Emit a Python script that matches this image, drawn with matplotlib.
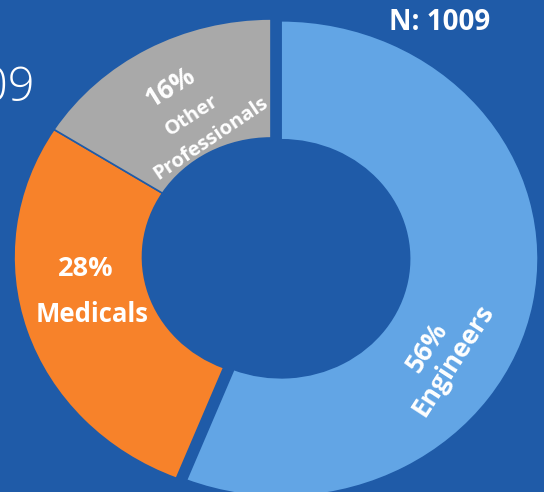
import matplotlib
matplotlib.use("Agg")
import matplotlib.pyplot as plt

categories = ["Engineers", "Medicals", "Other Professionals"]
shares = [56, 28, 16]
pct_labels = ["56%", "28%", "16%"]
total_n = 1009

bg = "#1f5ba8"
colors = ["#62a5e5", "#f7822a", "#a9a9a9"]

W, H = 544, 492
fig = plt.figure(figsize=(W / 100, H / 100), dpi=100, facecolor=bg)
ax = fig.add_axes([0, 0, 1, 1])
ax.set_facecolor(bg)

cx, cy, rx, ry = 271, 257, 257, 238

wedges, _ = ax.pie(shares, colors=colors, startangle=90, counterclock=False,
                   explode=[0.04, 0, 0], radius=1.0,
                   wedgeprops=dict(width=0.5, edgecolor=bg, linewidth=1.2))
ax.set_aspect("auto")
ax.set_xlim(-cx / rx, (W - cx) / rx)
ax.set_ylim((cy - H) / ry, cy / ry)
ax.axis("off")

font = ["Open Sans", "DejaVu Sans"]

def px(x, y):
    return ((x - cx) / rx, (cy - y) / ry)

# Engineers
ax.text(*px(427, 347), pct_labels[0], color="white", fontsize=19, fontweight="bold",
        rotation=57, ha="center", va="center", family=font)
ax.text(*px(453, 360), categories[0], color="white", fontsize=19, fontweight="bold",
        rotation=57, ha="center", va="center", family=font)
# Medicals
ax.text(*px(86, 269), pct_labels[1], color="white", fontsize=19.5, fontweight="bold",
        ha="center", va="center", family=font)
ax.text(*px(92, 314), categories[1], color="white", fontsize=18.5, fontweight="bold",
        ha="center", va="center", family=font)
# Other Professionals
ax.text(*px(170, 87), pct_labels[2], color="white", fontsize=19, fontweight="bold",
        rotation=32, ha="center", va="center", family=font)
ax.text(*px(192, 116), "Other", color="white", fontsize=14.5, fontweight="bold",
        rotation=33, ha="center", va="center", family=font)
ax.text(*px(211, 138), "Professionals", color="white", fontsize=14.5, fontweight="bold",
        rotation=34, ha="center", va="center", family=font)

fig.text(440 / W, 1 - 23 / H, f"N: {total_n}", color="white", fontsize=20,
         fontweight="bold", ha="center", va="center", family=font)
fig.text(35 / W, 1 - 89 / H, f"{total_n}", color="white", fontsize=34,
         fontweight="light", ha="right", va="center", family=font)

fig.savefig("out.png", dpi=100, facecolor=bg)
